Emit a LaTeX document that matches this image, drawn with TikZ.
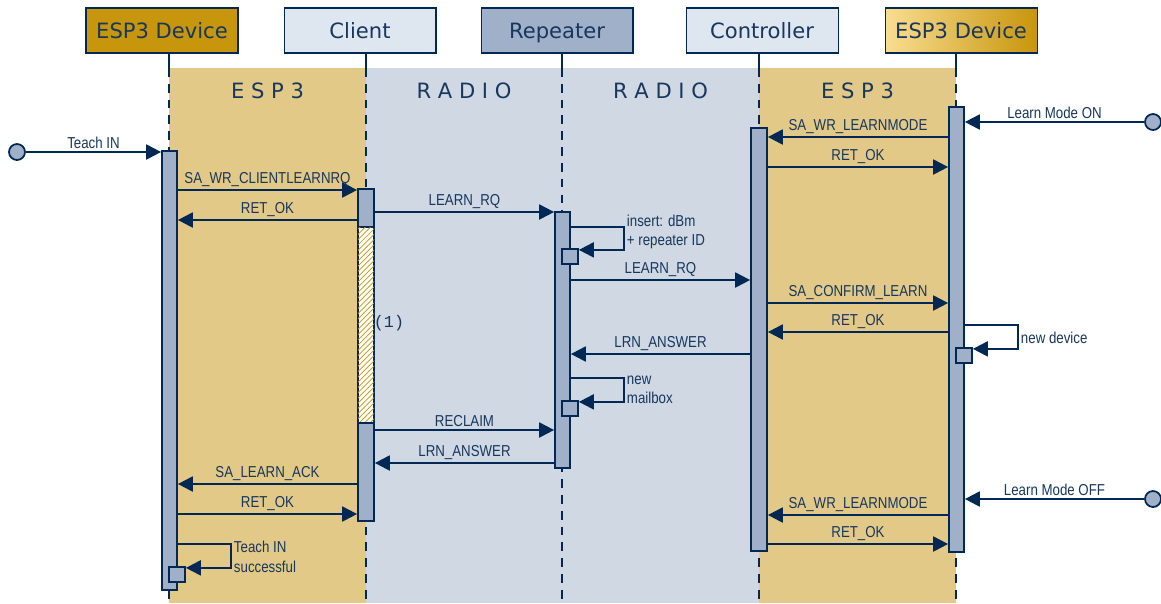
\documentclass[tikz,border=0pt]{standalone}
\usepackage{fontspec}
\usepackage{tikz}
\usetikzlibrary{positioning,fit,patterns,arrows.meta}
\newfontfamily\lblfont{Liberation Sans}[FakeStretch=0.84]
\newfontfamily\hdrfont{DejaVu Sans}
\newfontfamily\numfont{Liberation Mono}
\definecolor{cNavy}{RGB}{0,40,85}
\definecolor{cText}{RGB}{23,55,94}
\definecolor{cGold}{RGB}{200,150,12}
\definecolor{cGoldL}{RGB}{249,221,145}
\definecolor{cEsp}{RGB}{226,201,135}
\definecolor{cRadio}{RGB}{207,216,227}
\definecolor{cHead}{RGB}{222,230,240}
\definecolor{cBar}{RGB}{160,176,200}
\tikzstyle{head} = [rectangle, minimum width=3.04cm, minimum height=0.9cm, text height=8.8pt, text depth=0pt, draw=cNavy, line width=0.6pt, text=cText, font=\hdrfont\fontsize{12}{14}\selectfont]
\tikzstyle{bar} = [rectangle, inner sep=0pt, draw=cNavy, line width=1pt, fill=cBar]
\tikzstyle{selfbox} = [bar, minimum width=0.32cm, minimum height=0.3cm]
\tikzstyle{dot} = [circle, minimum size=0.32cm, inner sep=0pt, draw=cNavy, line width=1pt, fill=cBar]
\tikzstyle{arrow} = [draw=cNavy, line width=1.2pt, -{Triangle[length=8.5pt,width=8.5pt]}]
\tikzstyle{lbl} = [text=cText, font=\lblfont\fontsize{9}{11}\selectfont, inner sep=1.5pt]
\tikzstyle{life} = [draw=cNavy, line width=1.1pt]
\tikzstyle{layer} = [text=cText, font=\hdrfont\fontsize{12}{14}\selectfont]
\begin{document}
\begin{tikzpicture}[x=0.02cm, y=-0.02cm, node distance=0.9cm]

	\useasboundingbox (0,0) rectangle (1161,603);

	% participants
	\node (devL) [head, fill=cGold] at (162,30.5) {ESP3 Device};
	\node (cli) [head, fill=cHead, right=0.9cm of devL] {Client};
	\node (rep) [head, fill=cBar, right=0.88cm of cli] {Repeater};
	\node (ctl) [head, fill=cHead, right=1.04cm of rep] {Controller};
	\node (devR) [head, left color=cGoldL, middle color=cGoldL, right color=cGold, right=0.92cm of ctl] {ESP3 Device};

	% layers
	\fill [cEsp] (169,68) rectangle (366,603);
	\fill [cRadio] (366,68) rectangle (759,603);
	\fill [cEsp] (759,68) rectangle (956,603);
	\node [layer] at (267.5,91) {E S P 3};
	\node [layer] at (464,91) {R A D I O};
	\node [layer] at (660.5,91) {R A D I O};
	\node [layer] at (857.5,91) {E S P 3};

	% lifelines
	\foreach \x in {169,366,562,759,956} {
		\draw [life] (\x,53) -- (\x,68);
		\draw [life, dash pattern=on 5pt off 4pt] (\x,68) -- (\x,603);
	}

	% activations
	\node (devB) [bar, fit={(162,151) (177,590)}] {};
	\node (cliA) [bar, fit={(358,189) (374,227)}] {};
	\node (cliH) [bar, fill=white, postaction={pattern=north east lines, pattern color=cGold}, fit={(358,227) (374,423)}] {};
	\node (cliB) [bar, fit={(358,423) (374,521)}] {};
	\node (repB) [bar, fit={(555,212) (570,468)}] {};
	\node (ctlB) [bar, fit={(751,128) (767,551)}] {};
	\node (devRB) [bar, fit={(949,107) (964,552)}] {};

	\node (insB) [selfbox] at (570,256.5) {};
	\node (mbxB) [selfbox] at (570,408.5) {};
	\node (newB) [selfbox] at (964,355.5) {};
	\node (tinB) [selfbox] at (177,574.5) {};

	% message rows
	\foreach \n/\y in {rWcl/190, rOk1/220, rLrq1/212, rLrq2/280, rAns1/354, rRec/430, rAns2/463, rAck/484, rOk2/514,
		rWlm1/137, rOk3/167, rCnf/303, rOk4/332, rWlm2/515, rOk5/544, rIns/227, rMbx/378, rNew/325, rSuc/544}
		\coordinate (\n) at (0,\y);

	% left side
	\node (tinS) [dot] at (17,152) {};
	\draw [arrow] (tinS) -- (devB.west |- tinS) node [lbl, midway, above] {Teach IN};
	\draw [arrow] (devB.east |- rWcl) -- (cliA.west |- rWcl) node [lbl, midway, above] {SA\_WR\_CLIENTLEARNRQ};
	\draw [arrow] (cliA.west |- rOk1) -- (devB.east |- rOk1) node [lbl, midway, above] {RET\_OK};
	\draw [arrow] (cliA.east |- rLrq1) -- (repB.west |- rLrq1) node [lbl, midway, above] {LEARN\_RQ};
	\draw [arrow] (repB.east |- rLrq2) -- (ctlB.west |- rLrq2) node [lbl, midway, above] {LEARN\_RQ};
	\draw [arrow] (ctlB.west |- rAns1) -- (repB.east |- rAns1) node [lbl, midway, above] {LRN\_ANSWER};
	\draw [arrow] (cliB.east |- rRec) -- (repB.west |- rRec) node [lbl, midway, above] {RECLAIM};
	\draw [arrow] (repB.west |- rAns2) -- (cliB.east |- rAns2) node [lbl, midway, above] {LRN\_ANSWER};
	\draw [arrow] (cliB.west |- rAck) -- (devB.east |- rAck) node [lbl, midway, above] {SA\_LEARN\_ACK};
	\draw [arrow] (devB.east |- rOk2) -- (cliB.west |- rOk2) node [lbl, midway, above] {RET\_OK};

	% right side
	\node (onS) [dot] at (1153,122) {};
	\draw [arrow] (onS) -- (devRB.east |- onS) node [lbl, midway, above] {Learn Mode ON};
	\draw [arrow] (devRB.west |- rWlm1) -- (ctlB.east |- rWlm1) node [lbl, midway, above] {SA\_WR\_LEARNMODE};
	\draw [arrow] (ctlB.east |- rOk3) -- (devRB.west |- rOk3) node [lbl, midway, above] {RET\_OK};
	\draw [arrow] (ctlB.east |- rCnf) -- (devRB.west |- rCnf) node [lbl, midway, above] {SA\_CONFIRM\_LEARN};
	\draw [arrow] (devRB.west |- rOk4) -- (ctlB.east |- rOk4) node [lbl, midway, above] {RET\_OK};
	\node (offS) [dot] at (1153,499) {};
	\draw [arrow] (offS) -- (devRB.east |- offS) node [lbl, midway, above] {Learn Mode OFF};
	\draw [arrow] (devRB.west |- rWlm2) -- (ctlB.east |- rWlm2) node [lbl, midway, above] {SA\_WR\_LEARNMODE};
	\draw [arrow] (ctlB.east |- rOk5) -- (devRB.west |- rOk5) node [lbl, midway, above] {RET\_OK};

	% self messages
	\draw [arrow] (repB.east |- rIns) -- ++(53,0) |- ([yshift=-1pt]insB.north east);
	\draw [arrow] (repB.east |- rMbx) -- ++(53,0) |- ([yshift=-1pt]mbxB.north east);
	\draw [arrow] (devRB.east |- rNew) -- ++(53,0) |- ([yshift=-1pt]newB.north east);
	\draw [arrow] (devB.east |- rSuc) -- ++(53,0) |- ([yshift=-1pt]tinB.north east);
	\node [lbl, align=left, anchor=west] at (624,232) {insert: dBm\\+ repeater ID};
	\node [lbl, align=left, anchor=west] at (624,390) {new\\mailbox};
	\node [lbl, anchor=west] at (1018,338) {new device};
	\node [lbl, align=left, anchor=west] at (231,557) {Teach IN\\successful};
	\node [text=cText, font=\numfont\fontsize{9.5}{11}\selectfont] at (389,323) {(1)};

\end{tikzpicture}
\end{document}
